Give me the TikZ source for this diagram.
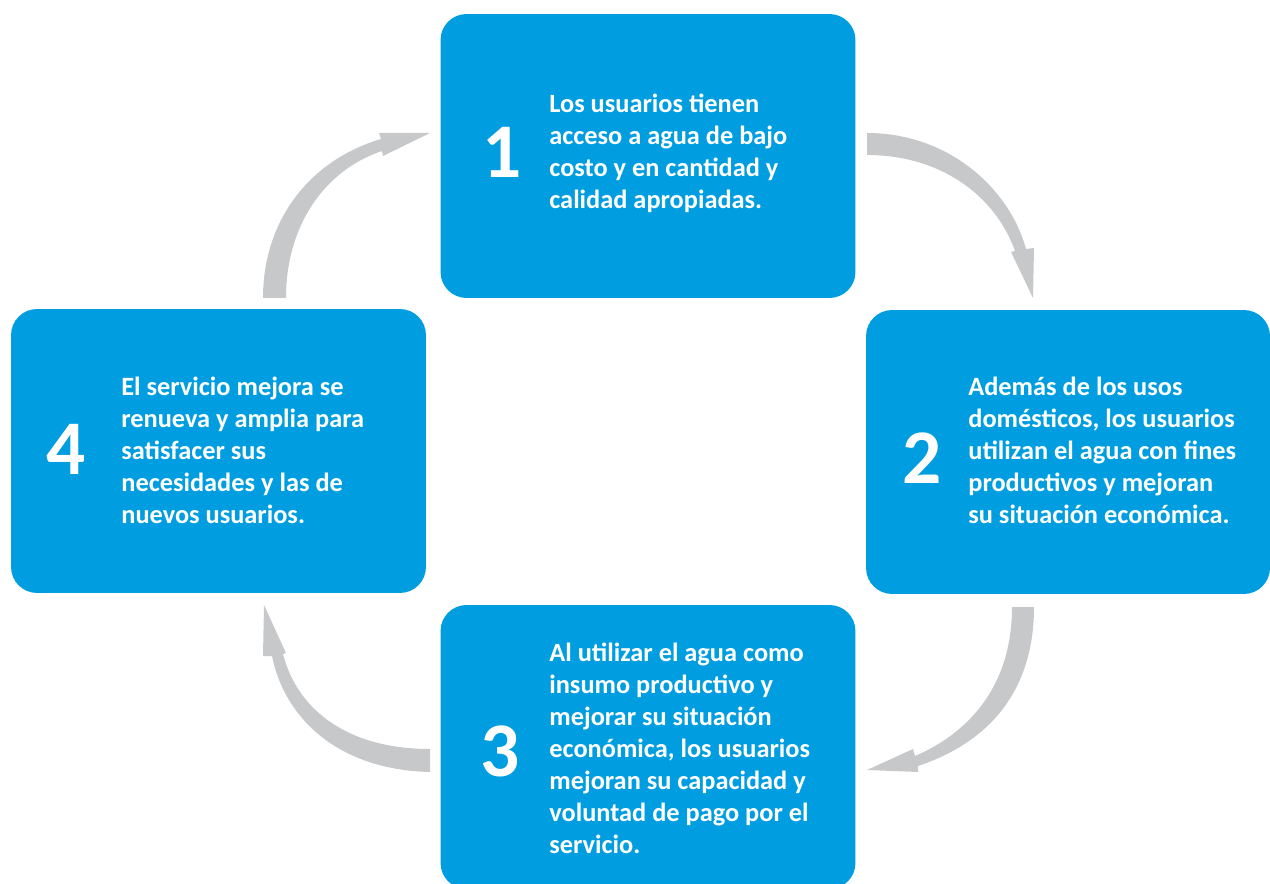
\documentclass[tikz,border=0pt]{standalone}
\usepackage{fontspec}
\setmainfont{Carlito}
\usepackage{xcolor}
\definecolor{azul}{HTML}{009EE0}
\definecolor{gris}{HTML}{C7C8CA}

\tikzset{
    caja/.style={fill=azul, rounded corners=0.52cm, minimum width=8.3cm, minimum height=5.68cm, inner sep=0pt},
    numero/.style={text=white, font=\bfseries\fontsize{44}{44}\selectfont, inner sep=0pt},
    texto/.style={text=white, font=\bfseries\fontsize{15}{18.2}\selectfont, align=left, anchor=west, inner sep=0pt},
    flecha/.style={fill=gris}
}

\begin{document}
\begin{tikzpicture}[x=0.02cm, y=-0.02cm]

    \useasboundingbox (0,0) rectangle (1270,884);
    \clip (0,0) rectangle (1270,884);

    % Cajas
    \node[caja] (c1) at (648,156) {};
    \node[caja, minimum width=8.08cm] (c2) at (1068,452) {};
    \node[caja] (c3) at (648,747) {};
    \node[caja] (c4) at (218.5,451) {};

    % Numeros
    \node[numero] (n1) at (502,152) {1};
    \node[numero] (n2) at (922,458) {2};
    \node[numero] (n3) at (500,751) {3};
    \node[numero] (n4) at (66,449) {4};

    % Textos
    \node[texto] (t1) at (549,153) {Los usuarios tienen\\acceso a agua de bajo\\costo y en cantidad y\\calidad apropiadas.};
    \node[texto] (t2) at (968,450) {Además de los usos\\domésticos, los usuarios\\utilizan el agua con fines\\productivos y mejoran\\su situación económica.};
    \node[texto] (t3) at (549,748) {Al utilizar el agua como\\insumo productivo y\\mejorar su situación\\económica, los usuarios\\mejoran su capacidad y\\voluntad de pago por el\\servicio.};
    \node[texto] (t4) at (121,450) {El servicio mejora se\\renueva y amplia para\\satisfacer sus\\necesidades y las de\\nuevos usuarios.};

    % Flecha 1 -> 2
    \fill[flecha] (867,133) .. controls (950,133) and (1010,190) .. (1026,249)
        -- (1034,248) -- (1033,298) -- (1011,252) -- (1015,251)
        .. controls (995,195) and (940,155) .. (867,155) -- cycle;

    % Flecha 2 -> 3
    \fill[flecha] (1034,607) .. controls (1034,690) and (990,742) .. (918,766)
        -- (918,772) -- (867,770) -- (913,749) -- (915,756)
        .. controls (975,730) and (1012,680) .. (1012,607) -- cycle;

    % Flecha 3 -> 4
    \fill[flecha] (430,772) .. controls (340,770) and (285,720) .. (272,656)
        -- (263,656) -- (264,605) -- (286,653) -- (283,654)
        .. controls (298,712) and (350,749) .. (430,749) -- cycle;

    % Flecha 4 -> 1
    \fill[flecha] (263,298) .. controls (263,220) and (310,160) .. (381,139)
        -- (379,133) -- (430,133) -- (383,156) -- (382,151)
        .. controls (325,170) and (286,225) .. (286,298) -- cycle;

\end{tikzpicture}
\end{document}
